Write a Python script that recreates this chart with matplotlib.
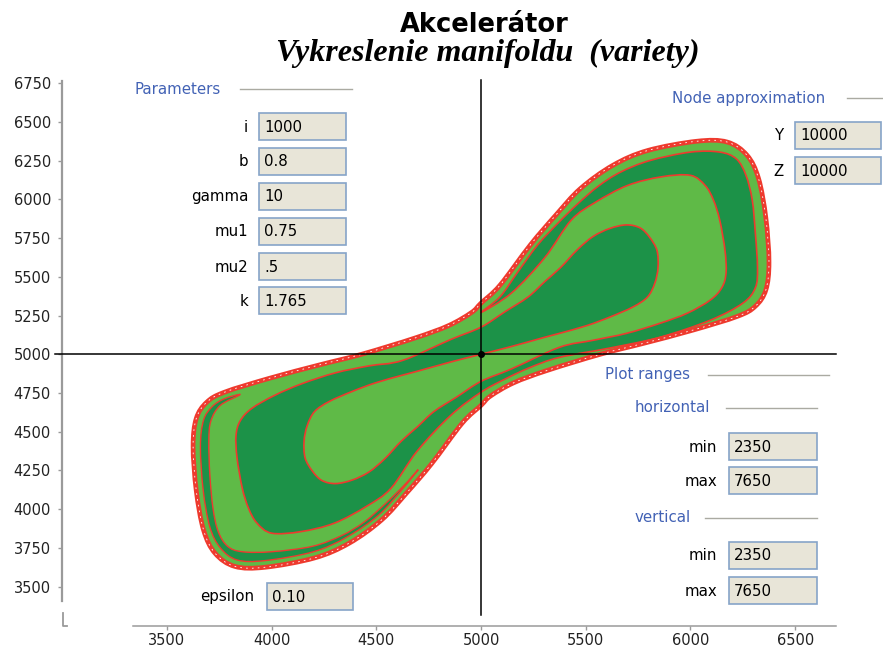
import matplotlib
matplotlib.use("Agg")
import matplotlib.pyplot as plt
from matplotlib.patches import PathPatch, Rectangle
from matplotlib.path import Path
from matplotlib.lines import Line2D

# ---------------- data ----------------
title = "Akcelerátor"
subtitle = "Vykreslenie manifoldu  (variety)"

x_ticks = [3500, 4000, 4500, 5000, 5500, 6000, 6500]
y_ticks = [3500, 3750, 4000, 4250, 4500, 4750, 5000, 5250, 5500, 5750,
           6000, 6250, 6500, 6750]
center_x, center_y = 5000, 5000

param_labels = ["i", "b", "gamma", "mu1", "mu2", "k"]
param_values = ["1000", "0.8", "10", "0.75", ".5", "1.765"]
node_labels = ["Y", "Z"]
node_values = ["10000", "10000"]
range_labels = ["min", "max"]
horizontal_values = ["2350", "7650"]
vertical_values = ["2350", "7650"]
epsilon_value = "0.10"

# outer boundary of the manifold
outer_x = [5000, 5090, 5235, 5355, 5475, 5630, 5795, 6030, 6175, 6270, 6325,
           6360, 6375, 6360, 6310, 6225, 6010, 5775, 5570, 5315, 5155, 5045,
           5000, 4910, 4765, 4645, 4525, 4370, 4205, 3970, 3825, 3730, 3675,
           3640, 3625, 3640, 3690, 3775, 3990, 4225, 4430, 4685, 4845, 4955]
outer_y = [5330, 5445, 5705, 5895, 6070, 6220, 6315, 6375, 6370, 6285, 6135,
           5880, 5595, 5415, 5310, 5245, 5155, 5070, 5000, 4895, 4815, 4730,
           4670, 4555, 4295, 4105, 3930, 3780, 3685, 3625, 3630, 3715, 3865,
           4120, 4405, 4585, 4690, 4755, 4845, 4930, 5000, 5105, 5185, 5270]

# dark spiral arm (upper-right lobe -> wraps lower-left -> upper-right band)
arm_x = [5845, 5830, 5795, 5725, 5615, 5505, 5375, 5305, 5145, 5000,
         4855, 4695, 4625, 4495, 4385, 4275, 4205, 4170, 4155, 4160, 4195,
         4240, 4305, 4385, 4465, 4540, 4620, 4695, 4775, 4885, 5000,
         5145, 5375, 5535, 5695, 5855, 5985, 6095, 6150, 6170, 6165, 6140,
         6110, 6070, 6000, 5860, 5700, 5545, 5430, 5305, 5145, 5000,
         5090, 5175, 5270, 5370, 5465, 5560, 5665, 5805, 6000, 6140, 6220,
         6265, 6295, 6310, 6320, 6310, 6250, 6095, 5855, 5615, 5375, 5235,
         5115, 5000,
         4855, 4695, 4570, 4455, 4300, 4140, 4000, 3930, 3890, 3860, 3835,
         3830, 3850, 3905, 4015, 4145, 4305, 4465, 4625, 4855, 5000,
         5115, 5225, 5305, 5380, 5460, 5535, 5615, 5695, 5760, 5805, 5840]
arm_y = [5560, 5460, 5370, 5305, 5240, 5185, 5135, 5110, 5050, 5000,
         4950, 4890, 4865, 4815, 4760, 4695, 4630, 4540, 4440, 4330, 4245,
         4185, 4165, 4188, 4240, 4325, 4440, 4530, 4630, 4725, 4825,
         4905, 5045, 5090, 5135, 5200, 5265, 5350, 5430, 5525, 5670, 5865,
         5995, 6090, 6155, 6145, 6090, 5980, 5865, 5625, 5395, 5270,
         5370, 5530, 5705, 5850, 5975, 6085, 6175, 6250, 6305, 6305, 6260,
         6155, 5995, 5780, 5560, 5430, 5330, 5220, 5110, 5040, 4980, 4915,
         4840, 4755,
         4605, 4375, 4135, 4020, 3910, 3855, 3845, 3910, 4005, 4135, 4330,
         4475, 4570, 4650, 4735, 4810, 4880, 4925, 4960, 5095, 5175,
         5275, 5370, 5470, 5560, 5675, 5760, 5812, 5835, 5815, 5755, 5670]

# thin dark band along the lower-left edge
band_x = [3850, 3770, 3715, 3675, 3660, 3673, 3705, 3755, 3835, 3970, 4200,
          4360, 4510, 4625, 4700,
          4630, 4535, 4440, 4335, 4195, 4000, 3860, 3790, 3745, 3720, 3705,
          3700, 3710, 3755]
band_y = [4740, 4710, 4660, 4575, 4405, 4125, 3885, 3750, 3672, 3668, 3725,
          3820, 3960, 4130, 4255,
          4150, 4025, 3915, 3830, 3760, 3725, 3725, 3760, 3855, 4005, 4220,
          4440, 4570, 4670]

# ---------------- figure ----------------
W, H = 883, 650
fig = plt.figure(figsize=(W / 100, H / 100), dpi=100)
fig.patch.set_facecolor("white")

LIGHT = "#5fba47"
DARK = "#1c9248"
RED = "#ee3a2e"
GRAY = "#9a9a9a"
BLUE = "#4262b5"


def fx(px):
    return px / W


def fy(py):
    return 1 - py / H


def smooth_closed_path(xs, ys):
    """Closed curve drawn as cubic Bezier segments through the given points."""
    n = len(xs)
    pts = list(zip(xs, ys))
    verts = [pts[0]]
    codes = [Path.MOVETO]
    for i in range(n):
        p0 = pts[i - 1]
        p1 = pts[i]
        p2 = pts[(i + 1) % n]
        p3 = pts[(i + 2) % n]
        c1 = (p1[0] + (p2[0] - p0[0]) / 6.0, p1[1] + (p2[1] - p0[1]) / 6.0)
        c2 = (p2[0] - (p3[0] - p1[0]) / 6.0, p2[1] - (p3[1] - p1[1]) / 6.0)
        verts += [c1, c2, p2]
        codes += [Path.CURVE4] * 3
    verts.append(pts[0])
    codes.append(Path.CLOSEPOLY)
    return Path(verts, codes)


ax = fig.add_axes([fx(133), fy(601), (836 - 133) / W, (601 - 81) / H])
ax.set_xlim(3338, 6695)
ax.set_ylim(3407, 6764)
ax.patch.set_alpha(0)

for s in ("top", "right"):
    ax.spines[s].set_visible(False)
ax.spines["left"].set_position(("outward", 71 * 0.72))
ax.spines["bottom"].set_position(("outward", 25 * 0.72))
ax.spines["left"].set_color(GRAY)
ax.spines["left"].set_linewidth(1.6)
ax.spines["bottom"].set_color(GRAY)
ax.spines["bottom"].set_linewidth(1.1)
ax.set_xticks(x_ticks)
ax.set_yticks(y_ticks)
ax.tick_params(axis="both", direction="out", length=3, width=1, color=GRAY,
               labelsize=10.5, labelcolor="#222222")
ax.tick_params(axis="y", pad=5)
ax.tick_params(axis="x", pad=2)

# manifold fills
outer_path = smooth_closed_path(outer_x, outer_y)
ax.add_patch(PathPatch(outer_path, facecolor=LIGHT, edgecolor="none", zorder=2))
ax.add_patch(PathPatch(smooth_closed_path(band_x, band_y), facecolor=DARK,
                       edgecolor=RED, linewidth=1.0, zorder=3))
ax.add_patch(PathPatch(smooth_closed_path(arm_x, arm_y), facecolor=DARK,
                       edgecolor=RED, linewidth=1.2, joinstyle="round", zorder=4))
ax.add_patch(PathPatch(outer_path, facecolor="none", edgecolor=RED,
                       linewidth=3.4, joinstyle="round", zorder=5))
ax.add_patch(PathPatch(outer_path, facecolor="none", edgecolor="white",
                       linewidth=0.6, linestyle=(0, (2, 5)), zorder=5.5))

# crosshair
ax.plot([2966, 6695], [center_y, center_y], color="black", lw=1.1,
        clip_on=False, zorder=6)
ax.plot([center_x, center_x], [3317, 6771], color="black", lw=1.1,
        clip_on=False, zorder=6)
ax.plot([center_x], [center_y], "o", color="black", ms=4, zorder=7)

# small corner mark
fig.add_artist(Line2D([fx(62.5), fx(62.5), fx(67)], [fy(613), fy(626), fy(626)],
                      color=GRAY, lw=1.3))

# titles
fig.text(fx(484), fy(32), title, ha="center", va="baseline", fontsize=18.5,
         fontweight="bold", family="DejaVu Sans")
fig.text(fx(488), fy(61), subtitle, ha="center", va="baseline", fontsize=23,
         fontweight="bold", style="italic", family="Liberation Serif")

FS = 10.8


def section(x0, yc, text, lx0, lx1):
    fig.text(fx(x0), fy(yc), text, color=BLUE, ha="left", va="center",
             fontsize=FS)
    fig.add_artist(Line2D([fx(lx0), fx(lx1)], [fy(yc), fy(yc)],
                          color="#aaaaa2", lw=1.0))


def field(label, value, lab_right, x0, x1, y0, y1):
    fig.add_artist(Rectangle((fx(x0), fy(y1)), (x1 - x0) / W, (y1 - y0) / H,
                             transform=fig.transFigure, facecolor="#e8e5d8",
                             edgecolor="#86a4c8", lw=1.2))
    fig.text(fx(x0 + 5), fy((y0 + y1) / 2 + 0.5), value, ha="left",
             va="center", fontsize=FS, color="black")
    fig.text(fx(lab_right), fy((y0 + y1) / 2 + 0.5), label, ha="right",
             va="center", fontsize=FS, color="black")


section(135, 89, "Parameters", 240, 352)
param_tops = [113, 148, 183, 218, 253, 287]
for lab, val, t in zip(param_labels, param_values, param_tops):
    field(lab, val, 248, 259, 346, t, t + 27)

section(672, 98, "Node approximation", 847, 883)
for lab, val, t in zip(node_labels, node_values, [122, 157]):
    field(lab, val, 784, 795, 881, t, t + 27)

section(605, 375, "Plot ranges", 708, 829)
section(635, 408, "horizontal", 726, 817)
for lab, val, t in zip(range_labels, horizontal_values, [433, 467]):
    field(lab, val, 717, 729, 817, t, t + 27)
section(635, 518, "vertical", 705, 817)
for lab, val, t in zip(range_labels, vertical_values, [542, 577]):
    field(lab, val, 717, 729, 817, t, t + 27)

field("epsilon", epsilon_value, 254, 267, 353, 583, 610)

fig.savefig("out.png", dpi=100, facecolor="white")
